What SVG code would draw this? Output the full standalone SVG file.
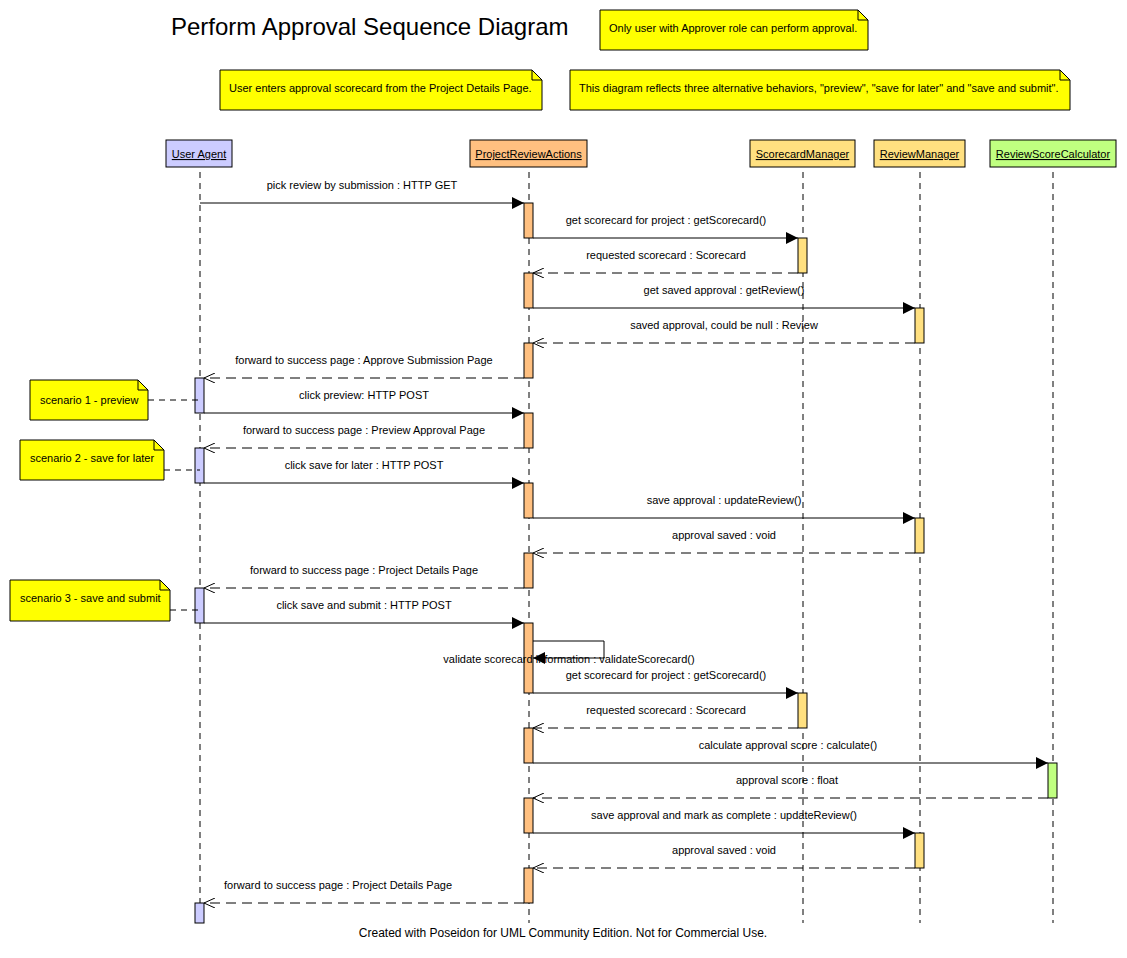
<svg xmlns="http://www.w3.org/2000/svg" width="1127" height="958" viewBox="0 0 1127 958">
<defs>
<marker id="sync" markerUnits="userSpaceOnUse" markerWidth="12" markerHeight="12" refX="12" refY="6" orient="auto"><path d="M0,0 L12,6 L0,12 z" fill="#000"/></marker>
<marker id="ret" markerUnits="userSpaceOnUse" markerWidth="12" markerHeight="10" refX="11" refY="5" orient="auto"><path d="M0,0 L11,5 L0,10" fill="none" stroke="#000" stroke-width="1"/></marker>
</defs>
<style>
text{font-family:"Liberation Sans",Arial,sans-serif;font-size:11px;fill:#000}
.title{font-size:24px}
.foot{font-size:12px}
.head{stroke:#000;stroke-width:1}
.life{stroke:#000;stroke-width:1;stroke-dasharray:6,5}
.act{stroke:#000;stroke-width:1}
.ua{fill:#CCCCFF}.pra{fill:#FFC080}.mgr{fill:#FFE080}.calc{fill:#C0FF80}
.note{fill:#FFFF00;stroke:#000;stroke-width:1}
.fold{fill:none;stroke:#000;stroke-width:1}
.call{stroke:#000;stroke-width:1;fill:none;marker-end:url(#sync)}
.rtn{stroke:#000;stroke-width:1;fill:none;stroke-dasharray:10,6;marker-end:url(#ret)}
.nl{stroke:#000;stroke-width:1;stroke-dasharray:6,5}
.u{text-decoration:underline}
</style>
<rect width="1127" height="958" fill="#fff"/>
<text class="title" x="171" y="35">Perform Approval Sequence Diagram</text>

<g id="note-approver">
<path class="note" d="M600,10 H858 L868,20 V50 H600 Z"/><path class="fold" d="M858,10 V20 H868"/>
<text x="609" y="32">Only user with Approver role can perform approval.</text>
</g>
<g id="note-entry">
<path class="note" d="M220,70 H532 L542,80 V110 H220 Z"/><path class="fold" d="M532,70 V80 H542"/>
<text x="229" y="92">User enters approval scorecard from the Project Details Page.</text>
</g>
<g id="note-alternatives">
<path class="note" d="M570,70 H1060 L1070,80 V110 H570 Z"/><path class="fold" d="M1060,70 V80 H1070"/>
<text x="579" y="92">This diagram reflects three alternative behaviors, "preview", "save for later" and "save and submit".</text>
</g>

<g id="user-agent">
<rect class="head ua" x="166" y="140" width="66" height="27"/>
<text class="u" x="199" y="158" text-anchor="middle">User Agent</text>
<line class="life" x1="200" y1="172" x2="200" y2="923"/>
<rect class="act ua" x="195" y="378" width="9" height="35"/>
<rect class="act ua" x="195" y="448" width="9" height="35"/>
<rect class="act ua" x="195" y="588" width="9" height="35"/>
<rect class="act ua" x="195" y="903" width="9" height="20"/>
</g>
<g id="project-review-actions">
<rect class="head pra" x="470" y="140" width="117" height="27"/>
<text class="u" x="528.5" y="158" text-anchor="middle">ProjectReviewActions</text>
<line class="life" x1="529" y1="172" x2="529" y2="923"/>
<rect class="act pra" x="524" y="203" width="9" height="35"/>
<rect class="act pra" x="524" y="273" width="9" height="35"/>
<rect class="act pra" x="524" y="343" width="9" height="35"/>
<rect class="act pra" x="524" y="413" width="9" height="35"/>
<rect class="act pra" x="524" y="483" width="9" height="35"/>
<rect class="act pra" x="524" y="553" width="9" height="35"/>
<rect class="act pra" x="524" y="623" width="9" height="70"/>
<rect class="act pra" x="524" y="728" width="9" height="35"/>
<rect class="act pra" x="524" y="798" width="9" height="35"/>
<rect class="act pra" x="524" y="868" width="9" height="35"/>
</g>
<g id="scorecard-manager">
<rect class="head mgr" x="750" y="140" width="105" height="27"/>
<text class="u" x="802.5" y="158" text-anchor="middle">ScorecardManager</text>
<line class="life" x1="803" y1="172" x2="803" y2="923"/>
<rect class="act mgr" x="798" y="238" width="9" height="35"/>
<rect class="act mgr" x="798" y="693" width="9" height="35"/>
</g>
<g id="review-manager">
<rect class="head mgr" x="874" y="140" width="91" height="27"/>
<text class="u" x="919.5" y="158" text-anchor="middle">ReviewManager</text>
<line class="life" x1="920" y1="172" x2="920" y2="923"/>
<rect class="act mgr" x="915" y="308" width="9" height="35"/>
<rect class="act mgr" x="915" y="518" width="9" height="35"/>
<rect class="act mgr" x="915" y="833" width="9" height="35"/>
</g>
<g id="review-score-calculator">
<rect class="head calc" x="990" y="140" width="126" height="27"/>
<text class="u" x="1053" y="158" text-anchor="middle">ReviewScoreCalculator</text>
<line class="life" x1="1053" y1="172" x2="1053" y2="923"/>
<rect class="act calc" x="1048" y="763" width="9" height="35"/>
</g>

<g id="note-scenario1">
<path class="note" d="M30,380 H138 L148,390 V420 H30 Z"/><path class="fold" d="M138,380 V390 H148"/>
<text x="40" y="404">scenario 1 - preview</text>
</g>
<g id="note-scenario2">
<path class="note" d="M20,440 H154 L164,450 V480 H20 Z"/><path class="fold" d="M154,440 V450 H164"/>
<text x="30" y="462">scenario 2 - save for later</text>
</g>
<g id="note-scenario3">
<path class="note" d="M10,580 H160 L170,590 V621 H10 Z"/><path class="fold" d="M160,580 V590 H170"/>
<text x="20" y="602">scenario 3 - save and submit</text>
</g>

<g id="connectors">
<line class="nl" x1="148" y1="400" x2="200" y2="400"/>
<line class="nl" x1="164" y1="470" x2="200" y2="470"/>
<line class="nl" x1="170" y1="610" x2="200" y2="610"/>

<line class="call" x1="200" y1="203" x2="524" y2="203"/>
<text x="362" y="189" text-anchor="middle">pick review by submission : HTTP GET</text>
<line class="call" x1="533" y1="238" x2="798" y2="238"/>
<text x="666" y="224" text-anchor="middle">get scorecard for project : getScorecard()</text>
<line class="rtn" x1="798" y1="273" x2="533" y2="273"/>
<text x="666" y="259" text-anchor="middle">requested scorecard : Scorecard</text>
<line class="call" x1="533" y1="308" x2="915" y2="308"/>
<text x="724" y="294" text-anchor="middle">get saved approval : getReview()</text>
<line class="rtn" x1="915" y1="343" x2="533" y2="343"/>
<text x="724" y="329" text-anchor="middle">saved approval, could be null : Review</text>
<line class="rtn" x1="524" y1="378" x2="204" y2="378"/>
<text x="364" y="364" text-anchor="middle">forward to success page : Approve Submission Page</text>
<line class="call" x1="204" y1="413" x2="524" y2="413"/>
<text x="364" y="399" text-anchor="middle">click preview: HTTP POST</text>
<line class="rtn" x1="524" y1="448" x2="204" y2="448"/>
<text x="364" y="434" text-anchor="middle">forward to success page : Preview Approval Page</text>
<line class="call" x1="204" y1="483" x2="524" y2="483"/>
<text x="364" y="469" text-anchor="middle">click save for later : HTTP POST</text>
<line class="call" x1="533" y1="518" x2="915" y2="518"/>
<text x="724" y="504" text-anchor="middle">save approval : updateReview()</text>
<line class="rtn" x1="915" y1="553" x2="533" y2="553"/>
<text x="724" y="539" text-anchor="middle">approval saved : void</text>
<line class="rtn" x1="524" y1="588" x2="204" y2="588"/>
<text x="364" y="574" text-anchor="middle">forward to success page : Project Details Page</text>
<line class="call" x1="204" y1="623" x2="524" y2="623"/>
<text x="364" y="609" text-anchor="middle">click save and submit : HTTP POST</text>
<path class="call" d="M533,641 H604 V658 H533"/>
<text x="569" y="663" text-anchor="middle">validate scorecard information : validateScorecard()</text>
<line class="call" x1="533" y1="693" x2="798" y2="693"/>
<text x="666" y="679" text-anchor="middle">get scorecard for project : getScorecard()</text>
<line class="rtn" x1="798" y1="728" x2="533" y2="728"/>
<text x="666" y="714" text-anchor="middle">requested scorecard : Scorecard</text>
<line class="call" x1="533" y1="763" x2="1048" y2="763"/>
<text x="788" y="749" text-anchor="middle">calculate approval score : calculate()</text>
<line class="rtn" x1="1048" y1="798" x2="533" y2="798"/>
<text x="787" y="784" text-anchor="middle">approval score : float</text>
<line class="call" x1="533" y1="833" x2="915" y2="833"/>
<text x="724" y="819" text-anchor="middle">save approval and mark as complete : updateReview()</text>
<line class="rtn" x1="915" y1="868" x2="533" y2="868"/>
<text x="724" y="854" text-anchor="middle">approval saved : void</text>
<line class="rtn" x1="524" y1="903" x2="204" y2="903"/>
<text x="338" y="889" text-anchor="middle">forward to success page : Project Details Page</text>
</g>

<text class="foot" x="563" y="937" text-anchor="middle">Created with Poseidon for UML Community Edition. Not for Commercial Use.</text>
</svg>
